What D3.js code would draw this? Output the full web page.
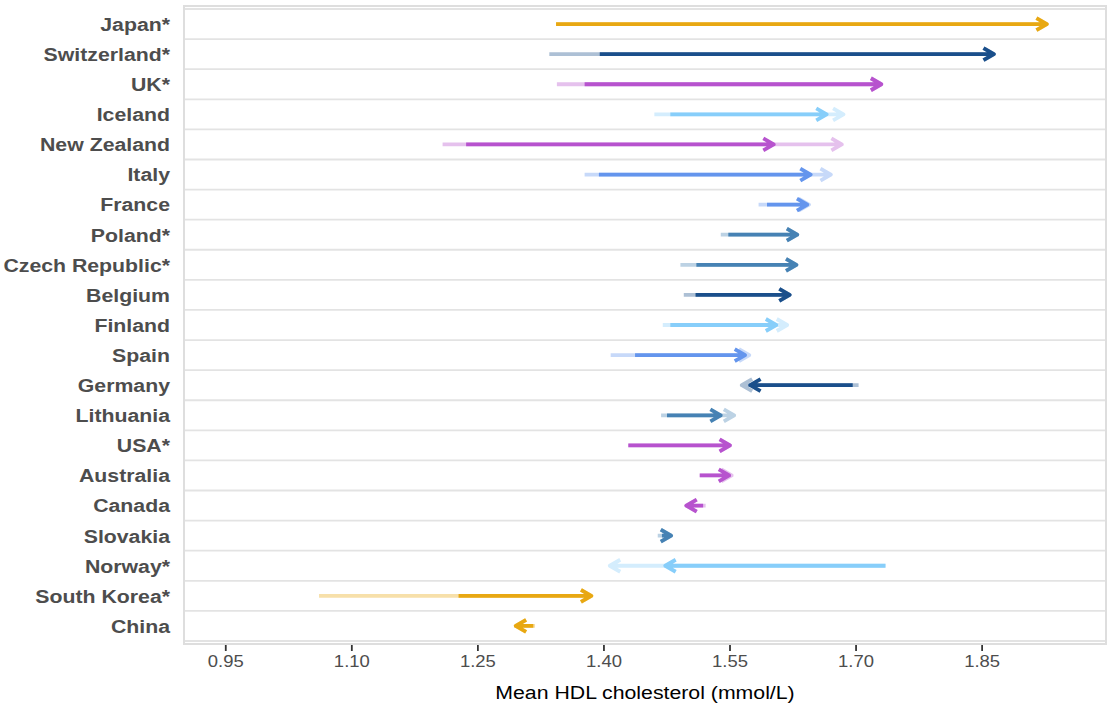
<!DOCTYPE html>
<html>
<head>
<meta charset="utf-8">
<script src="https://cdn.jsdelivr.net/npm/d3@7"></script>
<style>
  html, body { margin: 0; padding: 0; background: #ffffff; }
  svg { display: block; font-family: "Liberation Sans", Arial, sans-serif; }
</style>
</head>
<body>
<svg id="chart" width="1108" height="714"></svg>
<script>
// ---- data ----
const countries = ["Japan*", "Switzerland*", "UK*", "Iceland", "New Zealand", "Italy", "France",
  "Poland*", "Czech Republic*", "Belgium", "Finland", "Spain", "Germany", "Lithuania", "USA*",
  "Australia", "Canada", "Slovakia", "Norway*", "South Korea*", "China"];
const groups = ["orange", "darkblue", "purple", "lightblue", "purple", "cornflower", "cornflower",
  "steel", "steel", "darkblue", "lightblue", "cornflower", "darkblue", "steel", "purple",
  "purple", "purple", "steel", "lightblue", "orange", "orange"];
// dark (front) arrow
const darkStart = [1.343, 1.395, 1.377, 1.479, 1.236, 1.394, 1.594, 1.548, 1.510, 1.509, 1.479,
  1.437, 1.696, 1.475, 1.429, 1.514, 1.518, 1.469, 1.735, 1.227, 1.316];
const darkEnd = [1.927, 1.864, 1.730, 1.665, 1.602, 1.646, 1.642, 1.630, 1.629, 1.621, 1.605,
  1.568, 1.574, 1.539, 1.550, 1.549, 1.498, 1.480, 1.473, 1.385, 1.295];
// light (back) arrow
const lightStart = [1.343, 1.335, 1.344, 1.460, 1.208, 1.377, 1.584, 1.539, 1.491, 1.495, 1.470,
  1.408, 1.703, 1.468, 1.429, 1.514, 1.521, 1.464, 1.735, 1.061, 1.318];
const lightEnd = [1.927, 1.864, 1.730, 1.685, 1.683, 1.670, 1.644, 1.630, 1.629, 1.621, 1.618,
  1.573, 1.564, 1.555, 1.550, 1.552, 1.498, 1.480, 1.407, 1.385, 1.295];
const tickValues = [0.95, 1.10, 1.25, 1.40, 1.55, 1.70, 1.85];
const xTitle = "Mean HDL cholesterol (mmol/L)";
const palette = {
  orange: "#E8A812", darkblue: "#1A4F8B", purple: "#B753CE",
  lightblue: "#87CEFA", cornflower: "#6495ED", steel: "#4682B4"
};

// ---- layout ----
const svg = d3.select("#chart");
const panel = { left: 184, right: 1106, top: 6, bottom: 644 };
const x = d3.scaleLinear().domain([0.9003, 1.9974]).range([panel.left, panel.right]);
const y = d3.scalePoint().domain(countries).range([panel.top, panel.bottom]).padding(0.6);
const step = y.step();
const SX = 1.12; // horizontal text stretch

// row separator lines
const seps = countries.map(c => y(c) + step / 2).concat([y(countries[0]) - step / 2]);
svg.append("g").selectAll("line").data(seps).join("line")
  .attr("x1", panel.left).attr("x2", panel.right)
  .attr("y1", d => d).attr("y2", d => d)
  .attr("stroke", "#e3e3e3").attr("stroke-width", 1.8);

// panel border
svg.append("rect")
  .attr("x", panel.left).attr("y", panel.top)
  .attr("width", panel.right - panel.left).attr("height", panel.bottom - panel.top)
  .attr("fill", "none").attr("stroke", "#dedede").attr("stroke-width", 2);

// arrows
const LW = 3.8, AL = 12, ANG = Math.PI / 6;
function arrowPath(x0, x1, yy) {
  const dir = x1 >= x0 ? 1 : -1;
  const hx = x1 - dir * AL * Math.cos(ANG);
  const hy = AL * Math.sin(ANG);
  return `M${x0},${yy}L${x1},${yy}M${hx},${yy - hy}L${x1},${yy}L${hx},${yy + hy}`;
}
const rows = countries.map((c, i) => ({
  c, col: palette[groups[i]],
  ds: darkStart[i], de: darkEnd[i], ls: lightStart[i], le: lightEnd[i]
}));
const gA = svg.append("g").attr("fill", "none")
  .attr("stroke-width", LW).attr("stroke-linejoin", "round").attr("stroke-linecap", "butt");
gA.selectAll("path.light").data(rows).join("path").attr("class", "light")
  .attr("d", d => arrowPath(x(d.ls), x(d.le), y(d.c)))
  .attr("stroke", d => d3.interpolateRgb("#ffffff", d.col)(0.36));
gA.selectAll("path.dark").data(rows).join("path").attr("class", "dark")
  .attr("d", d => arrowPath(x(d.ds), x(d.de), y(d.c)))
  .attr("stroke", d => d.col);

// y labels
svg.append("g").selectAll("text").data(countries).join("text")
  .attr("transform", d => `translate(170,${y(d)}) scale(${SX},1)`)
  .attr("text-anchor", "end").attr("dy", "0.36em")
  .attr("font-size", 19).attr("font-weight", "bold").attr("fill", "#4d4d4d")
  .text(d => d);

// x axis ticks
const gx = svg.append("g");
gx.selectAll("line").data(tickValues).join("line")
  .attr("x1", d => x(d)).attr("x2", d => x(d))
  .attr("y1", panel.bottom + 1).attr("y2", panel.bottom + 7)
  .attr("stroke", "#333333").attr("stroke-width", 1.8);
gx.selectAll("text").data(tickValues).join("text")
  .attr("transform", d => `translate(${x(d)},667) scale(${SX},1)`)
  .attr("text-anchor", "middle")
  .attr("font-size", 16.5).attr("fill", "#4d4d4d")
  .text(d => d3.format(".2f")(d));

// x title
svg.append("text")
  .attr("transform", `translate(${(panel.left + panel.right) / 2},699) scale(${SX},1)`)
  .attr("text-anchor", "middle")
  .attr("font-size", 19).attr("fill", "#000000")
  .text(xTitle);
</script>
</body>
</html>
